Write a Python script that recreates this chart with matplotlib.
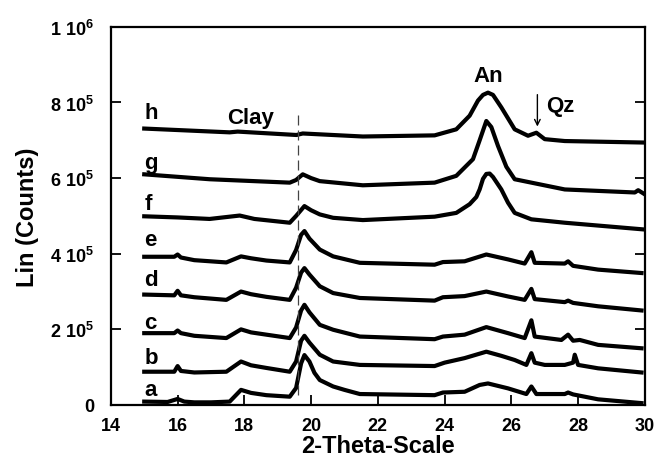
import matplotlib
matplotlib.use("Agg")
import matplotlib.pyplot as plt
import numpy as np

plt.rcParams['font.family'] = ['Liberation Sans', 'DejaVu Sans']
plt.rcParams['font.weight'] = 'bold'
plt.rcParams['mathtext.default'] = 'regular'

# traces: 2-theta, counts (x1000)
a_x = [15.0, 15.7, 16.0, 16.2, 16.5, 17.0, 17.56, 17.9, 18.2, 18.66, 19.36, 19.55, 19.7, 19.8, 19.95, 20.1, 20.26, 20.66, 21.0, 21.46, 23.7, 23.95, 24.6, 25.05, 25.3, 25.9, 26.45, 26.6, 26.75, 27.6, 27.7, 27.85, 28.6, 29.9]
a_y = [9, 8, 16, 9, 7, 7, 9, 40, 32, 26, 22, 45, 110, 132, 115, 85, 66, 49, 40, 29, 26, 33, 35, 53, 57, 44, 29, 49, 29, 29, 33, 28, 15, 5]

b_x = [15.0, 15.9, 16.0, 16.1, 16.5, 17.46, 17.9, 18.2, 18.66, 19.36, 19.55, 19.7, 19.8, 19.95, 20.26, 20.66, 21.46, 23.7, 24.0, 24.6, 25.25, 25.7, 26.1, 26.45, 26.6, 26.7, 27.0, 27.6, 27.85, 27.9, 28.0, 28.6, 29.9]
b_y = [88, 88, 103, 90, 86, 88, 115, 105, 98, 88, 115, 170, 183, 165, 133, 115, 106, 103, 112, 124, 141, 130, 119, 106, 137, 112, 106, 106, 112, 133, 106, 97, 86]

c_x = [15.0, 15.9, 16.0, 16.1, 16.5, 17.46, 17.9, 18.2, 18.66, 19.36, 19.55, 19.7, 19.8, 19.95, 20.26, 20.66, 21.46, 23.7, 23.95, 24.6, 25.25, 25.9, 26.4, 26.6, 26.7, 27.5, 27.7, 27.85, 28.05, 28.6, 29.9]
c_y = [190, 190, 197, 190, 183, 177, 200, 192, 186, 177, 205, 250, 265, 245, 212, 199, 181, 174, 181, 186, 206, 190, 177, 224, 181, 172, 186, 170, 172, 159, 150]

d_x = [15.0, 15.9, 16.0, 16.1, 16.5, 17.46, 17.9, 18.2, 18.66, 19.36, 19.55, 19.7, 19.8, 19.95, 20.26, 20.66, 21.46, 23.7, 23.95, 24.6, 25.25, 25.9, 26.4, 26.6, 26.7, 27.6, 27.7, 27.85, 28.6, 29.9]
d_y = [292, 290, 302, 290, 285, 278, 300, 293, 286, 278, 310, 350, 362, 345, 314, 296, 283, 276, 285, 288, 300, 287, 278, 307, 280, 272, 276, 270, 261, 250]

e_x = [15.0, 15.9, 16.0, 16.1, 16.5, 17.46, 17.9, 18.2, 18.66, 19.36, 19.55, 19.7, 19.8, 19.95, 20.26, 20.66, 21.46, 23.7, 23.95, 24.6, 25.25, 25.9, 26.4, 26.6, 26.7, 27.6, 27.7, 27.85, 28.6, 29.9]
e_y = [392, 392, 398, 390, 383, 377, 393, 388, 382, 377, 410, 450, 460, 440, 411, 393, 376, 371, 378, 380, 398, 385, 374, 404, 376, 374, 380, 368, 358, 349]

f_x = [15.0, 16.0, 16.96, 17.86, 18.3, 19.36, 19.55, 19.8, 20.0, 20.26, 20.66, 21.55, 23.7, 24.35, 24.75, 24.95, 25.05, 25.15, 25.25, 25.35, 25.45, 25.7, 25.9, 26.1, 26.6, 27.6, 30.0]
f_y = [499, 496, 492, 501, 492, 482, 500, 526, 515, 504, 495, 489, 498, 508, 531, 550, 570, 598, 611, 612, 603, 570, 535, 508, 491, 482, 464]

g_x = [15.0, 16.96, 19.36, 19.55, 19.75, 20.0, 20.26, 21.55, 23.7, 24.35, 24.85, 25.05, 25.25, 25.4, 25.6, 25.85, 26.1, 26.6, 27.6, 29.7, 29.8, 30.0]
g_y = [610, 597, 588, 595, 610, 600, 592, 581, 588, 606, 650, 700, 751, 735, 685, 630, 597, 588, 570, 562, 568, 557]

h_x = [15.0, 17.56, 17.8, 19.56, 19.75, 21.55, 23.7, 24.35, 24.75, 25.0, 25.15, 25.3, 25.45, 25.7, 26.1, 26.5, 26.75, 27.0, 27.6, 30.0]
h_y = [731, 721, 723, 714, 718, 710, 713, 729, 765, 805, 820, 826, 820, 787, 729, 712, 720, 703, 698, 694]

names = ['a', 'b', 'c', 'd', 'e', 'f', 'g', 'h']
label_y = [27, 111, 203, 318, 422, 517, 628, 760]
xs = [a_x, b_x, c_x, d_x, e_x, f_x, g_x, h_x]
ys = [a_y, b_y, c_y, d_y, e_y, f_y, g_y, h_y]

fig = plt.figure(figsize=(6.56, 4.64), dpi=100)
ax = fig.add_axes([0.169, 0.125, 0.814, 0.815])

for name, ly, x, y in zip(names, label_y, xs, ys):
    ax.plot(x, np.array(y) * 1e3, color='black', lw=3.0, solid_joinstyle='round')
    ax.text(15.0, ly * 1e3, name, fontsize=16, fontweight='bold', va='baseline', ha='left')

ax.plot([19.62, 19.62], [26e3, 769e3], color='#444444', lw=0.9, dashes=(8, 4))
ax.text(18.2, 745e3, 'Clay', fontsize=16, fontweight='bold', ha='center', va='baseline')
ax.text(25.31, 858e3, 'An', fontsize=16, fontweight='bold', ha='center', va='baseline')
ax.text(27.04, 778e3, 'Qz', fontsize=16, fontweight='bold', ha='left', va='baseline')
ax.annotate('', xy=(26.78, 729e3), xytext=(26.78, 828e3),
            arrowprops=dict(arrowstyle='->', color='black', lw=1.0))

ax.set_xlim(14, 30)
ax.set_ylim(0, 1e6)
ax.set_xticks(np.arange(14, 31, 2))
ax.set_yticks([0, 2e5, 4e5, 6e5, 8e5, 1e6])
ax.set_yticklabels(['0', '2 10$^5$', '4 10$^5$', '6 10$^5$', '8 10$^5$', '1 10$^6$'])
ax.tick_params(axis='both', direction='in', length=7, width=1.3, labelsize=13)
ax.tick_params(axis='y', right=True, pad=12)
ax.tick_params(axis='x', pad=9)
for lab in ax.get_xticklabels() + ax.get_yticklabels():
    lab.set_fontweight('bold')
for s in ax.spines.values():
    s.set_linewidth(1.6)

ax.set_xlabel('2-Theta-Scale', fontsize=17, fontweight='bold', labelpad=0)
ax.set_ylabel('Lin (Counts)', fontsize=17, fontweight='bold', labelpad=8)

fig.savefig('out.png', dpi=100)
